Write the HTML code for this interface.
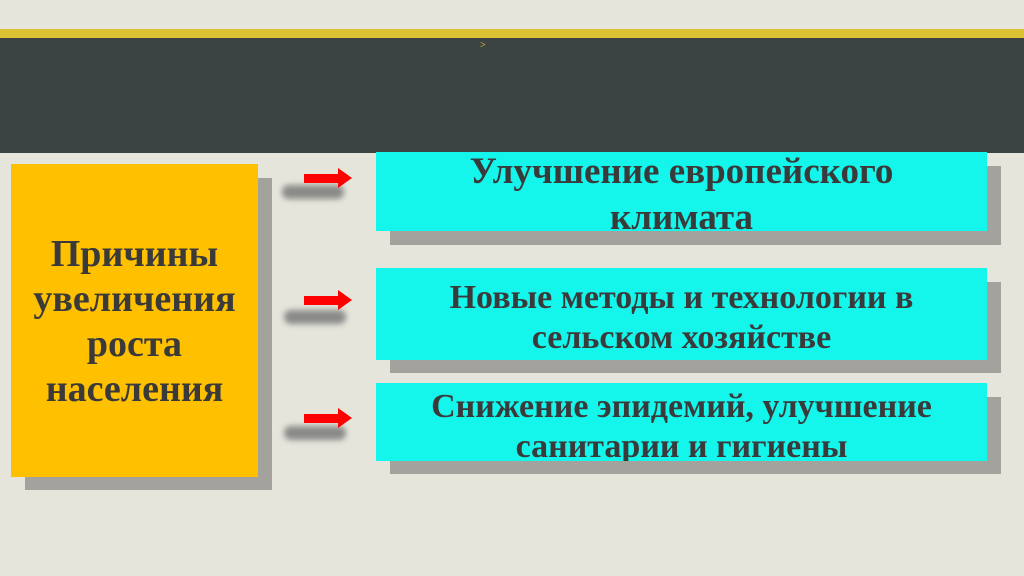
<html><head><style>
body{margin:0;width:1024px;height:576px;background:#e5e5dc;position:relative;overflow:hidden;font-family:"Liberation Serif",serif;font-weight:bold;color:#3a3a3a}
div{position:absolute}
.sh{background:#a3a29c}
.c{background:#14f5ec;text-align:center;overflow:hidden;box-sizing:border-box}
.ar{width:34px;height:9px;background:#f00}
.ah{width:0;height:0;border-left:14px solid #f00;border-top:10px solid transparent;border-bottom:10px solid transparent}
.bl{width:62px;height:14px;border-radius:7px;background:#8a8a88;filter:blur(3px)}
</style></head><body>
<div style="left:0;top:29px;width:1024px;height:9px;background:#dcc233"></div>
<div style="left:0;top:38px;width:1024px;height:115px;background:#3c4443"></div>
<div style="left:480px;top:40px;color:#c9b040;font-size:10px">&gt;</div>
<div class="sh" style="left:25px;top:178px;width:247px;height:312px"></div>
<div style="left:11px;top:164px;width:247px;height:313px;background:#ffc000;text-align:center;font-size:38px;line-height:45px;box-sizing:border-box;padding-top:68px">Причины<br>увеличения<br>роста<br>населения</div>
<div class="sh" style="left:390px;top:166px;width:611px;height:79px"></div>
<div class="c" style="left:376px;top:152px;width:611px;height:79px;font-size:37px;line-height:46px;padding-top:-3px"><div style="position:relative;top:-3px">Улучшение европейского<br>климата</div></div>
<div class="sh" style="left:390px;top:282px;width:611px;height:91px"></div>
<div class="c" style="left:376px;top:268px;width:611px;height:92px;font-size:34px;line-height:40px;padding-top:10px">Новые методы и технологии в<br>сельском хозяйстве</div>
<div class="sh" style="left:390px;top:397px;width:611px;height:77px"></div>
<div class="c" style="left:376px;top:383px;width:611px;height:78px;font-size:34px;line-height:40px;padding-top:4px">Снижение эпидемий, улучшение<br>санитарии и гигиены</div>
<div class="bl" style="left:282px;top:185px"></div>
<div class="ar" style="left:304px;top:174px"></div><div class="ah" style="left:338px;top:168px"></div>
<div class="bl" style="left:284px;top:310px"></div>
<div class="ar" style="left:304px;top:296px"></div><div class="ah" style="left:338px;top:290px"></div>
<div class="bl" style="left:284px;top:426px"></div>
<div class="ar" style="left:304px;top:414px"></div><div class="ah" style="left:338px;top:408px"></div>
</body></html>
